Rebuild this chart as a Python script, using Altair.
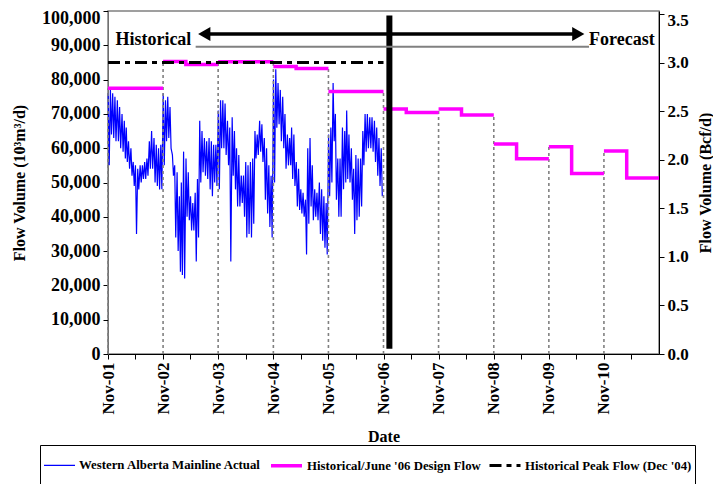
import altair as alt
import pandas as pd

# ---------------- data ----------------
# Daily actual flow (10^3 m3/d), summarised as half-monthly highs / lows,
# starting in November of each gas year.
actual_years = [2001, 2002, 2003, 2004, 2005]
actual_hi = {
    2001: [76, 77, 76, 75, 74, 72, 70, 68, 66, 62, 60, 56, 55, 54, 55, 55, 56, 57, 62, 65, 63, 61, 60, 61],
    2002: [76, 74, 75, 72, 58, 55, 53, 46, 50, 59, 57, 53, 46, 44, 47, 51, 68, 65, 63, 62, 63, 62, 61, 61],
    2003: [71, 74, 74, 73, 68, 66, 69, 65, 60, 58, 52, 52, 56, 55, 56, 57, 65, 64, 68, 67, 63, 60, 55, 52],
    2004: [80, 83, 79, 77, 75, 70, 64, 63, 66, 64, 56, 54, 48, 47, 45, 60, 63, 55, 48, 47, 50, 48, 46, 44],
    2005: [64, 66, 79, 70, 57, 57, 66, 65, 71, 64, 60, 54, 58, 57, 57, 65, 70, 70, 69, 69, 68, 66, 63, 60],
}
actual_lo = {
    2001: [55, 64, 63, 62, 62, 60, 59, 57, 56, 54, 52, 49, 35, 48, 50, 51, 51, 52, 54, 54, 50, 49, 48, 48],
    2002: [55, 62, 63, 60, 52, 34, 30, 24, 23, 22, 40, 39, 36, 36, 27, 34, 50, 53, 52, 51, 48, 46, 50, 49],
    2003: [48, 60, 60, 58, 55, 27, 52, 48, 43, 43, 44, 40, 34, 35, 34, 38, 57, 58, 59, 56, 45, 41, 37, 34],
    2004: [50, 66, 67, 62, 60, 54, 55, 55, 51, 49, 43, 42, 41, 40, 29, 38, 43, 39, 40, 39, 35, 33, 31, 29],
    2005: [46, 50, 62, 45, 40, 40, 48, 50, 51, 50, 45, 35, 39, 40, 43, 55, 59, 60, 60, 59, 56, 52, 49, 46],
}

# Design flow (10^3 m3/d): winter level from 1 Nov, summer level from 1 Apr
design_years = [2001, 2002, 2003, 2004, 2005, 2006, 2007, 2008, 2009, 2010]
design_winter = [77.5, 85.3, 85.2, 83.8, 76.5, 71.4, 71.4, 61.2, 60.4, 59.2]
design_summer = [77.5, 84.4, 85.2, 83.2, 76.5, 70.4, 69.7, 56.9, 52.6, 51.3]

peak_flow = 85000
peak_dates = ["2001-11-01", "2006-11-01"]

forecast_bar_date = "2006-12-10"
forecast_bar_range = [1500, 98700]

right_ticks = [0.0, 0.5, 1.0, 1.5, 2.0, 2.5, 3.0, 3.5]
M3_PER_BCF = 28316.85  # 10^3 m3 per Bcf

S_ACT = "Western Alberta Mainline Actual"
S_DES = "Historical/June '06 Design Flow"
S_PEAK = "Historical Peak Flow (Dec '04)"

# ---------------- tables ----------------
rows = []
for yr in actual_years:
    for i in range(24):
        m = 11 + i // 2
        yy = yr + (m - 1) // 12
        mm = (m - 1) % 12 + 1
        base = pd.Timestamp(yy, mm, 1 if i % 2 == 0 else 16)
        rows.append((base + pd.Timedelta(days=1), actual_hi[yr][i] * 1000))
        rows.append((base + pd.Timedelta(days=8), actual_lo[yr][i] * 1000))
actual = pd.DataFrame(rows, columns=["date", "value"])
actual["date"] = actual["date"].dt.strftime("%Y-%m-%d")
actual["series"] = S_ACT

drows = []
for yr, w, s in zip(design_years, design_winter, design_summer):
    drows += [
        (f"{yr}-11-01", w * 1000, yr),
        (f"{yr + 1}-04-01", w * 1000, yr),
        (f"{yr + 1}-04-01", s * 1000, yr),
        (f"{yr + 1}-11-01", s * 1000, yr),
    ]
design = pd.DataFrame(drows, columns=["date", "value", "grp"])
design["series"] = S_DES

drop_rows = []
for k, yr in enumerate(design_years):
    top = design_winter[k] if k == 0 else max(design_summer[k - 1], design_winter[k])
    drop_rows.append((f"{yr}-11-01", 0, top * 1000))
drops = pd.DataFrame(drop_rows, columns=["date", "value", "value2"])

peak = pd.DataFrame({"date": peak_dates, "value": [peak_flow] * 2, "series": [S_PEAK] * 2})
bar = pd.DataFrame({"date": [forecast_bar_date], "value": [forecast_bar_range[0]],
                    "value2": [forecast_bar_range[1]]})

arrow_line = pd.DataFrame({"date": ["2003-08-01", "2010-05-15"], "value": [93300, 93300]})
arrow_heads = pd.DataFrame({"date": ["2003-08-01", "2010-05-15"], "value": [93300, 93300],
                            "shape": ["triangle-left", "triangle-right"]})
underline = pd.DataFrame({"date": ["2003-06-05", "2010-07-25"], "value": [89600, 89600]})
labels = pd.DataFrame({"date": ["2001-12-20", "2010-07-25"], "value": [90100, 90100],
                       "text": ["Historical", "Forecast"]})
right_df = pd.DataFrame({"bcf": right_ticks})

# ---------------- encodings ----------------
FONT = "Liberation Serif"
xticks = []
for yr in range(2001, 2011):
    xticks.append(alt.DateTime(year=yr, month=11, date=1, utc=True))
    xticks.append(alt.DateTime(year=yr + 1, month=5, date=1, utc=True))

xscale = alt.Scale(type="utc", domain=[alt.DateTime(year=2001, month=11, date=1, utc=True),
                                        alt.DateTime(year=2011, month=11, date=1, utc=True)])
xaxis = alt.Axis(values=xticks,
                 labelExpr="utcmonth(datum.value) == 10 ? utcFormat(datum.value, '%b-%y') : ''",
                 labelAngle=270, labelFont=FONT, labelFontSize=17, labelFontWeight="bold",
                 labelColor="black", tickColor="black", domainColor="black", tickSize=5,
                 labelPadding=3, grid=False, title="Date", titleFont=FONT, titleFontSize=16,
                 titleFontWeight="bold", titleColor="black", titlePadding=15)
X = alt.X("date:T", scale=xscale, axis=xaxis)

yscale = alt.Scale(domain=[0, 100000], nice=False, zero=True)
yaxis = alt.Axis(values=list(range(0, 100001, 10000)), format=",d", labelFont=FONT, labelFontSize=18,
                 labelFontWeight="bold", labelColor="black", tickColor="black", domainColor="#707070",
                 tickSize=5, labelPadding=3, grid=False,
                 labelOffset={"condition": {"test": "datum.value == 100000", "value": 7}, "value": 0},
                 title="Flow Volume (10³m³/d)", titleFont=FONT, titleFontSize=16, titleFontWeight="bold",
                 titleColor="black", titlePadding=14)
Y = alt.Y("value:Q", scale=yscale, axis=yaxis)

dom = [S_ACT, S_DES, S_PEAK]
legend = alt.Legend(orient="none", legendX=-68, legendY=434, direction="horizontal",
                    title=" ", titleOrient="bottom", titleFontSize=40, titleColor="white", titlePadding=0,
                    symbolType="stroke", symbolSize=961, labelFont=FONT, labelFontSize=12.8,
                    labelFontWeight="bold", labelColor="black", labelLimit=400, labelOffset=3,
                    columnPadding=2, padding=3, strokeColor="black", fillColor="white")
COLOR = alt.Color("series:N", scale=alt.Scale(domain=dom, range=["#0000FF", "#FF00FF", "#000000"]),
                  legend=legend)
DASH = alt.StrokeDash("series:N", scale=alt.Scale(domain=dom, range=[[1, 0], [1, 0], [12, 5, 5, 5]]),
                      legend=legend)
WIDTH = alt.StrokeWidth("series:N", scale=alt.Scale(type="ordinal", domain=dom, range=[1.2, 3.5, 3]),
                        legend=legend)

actual_layer = alt.Chart(actual).mark_line().encode(x=X, y=Y, color=COLOR, strokeDash=DASH,
                                                     strokeWidth=WIDTH, order="date:T")
drop_layer = alt.Chart(drops).mark_rule(color="#808080", strokeDash=[3, 3], strokeWidth=1.6).encode(
    x=X, y=Y, y2="value2:Q")
design_layer = alt.Chart(design).mark_line().encode(x=X, y=Y, color=COLOR, strokeDash=DASH,
                                                     strokeWidth=WIDTH, detail="grp:N")
peak_layer = alt.Chart(peak).mark_line().encode(x=X, y=Y, color=COLOR, strokeDash=DASH, strokeWidth=WIDTH)
bar_layer = alt.Chart(bar).mark_rule(color="black", strokeWidth=6).encode(x=X, y=Y, y2="value2:Q")
under_layer = alt.Chart(underline).mark_line(color="#808080", strokeWidth=2).encode(x=X, y=Y)
arrow_layer = alt.Chart(arrow_line).mark_line(color="black", strokeWidth=3.5).encode(x=X, y=Y)
head_layer = alt.Chart(arrow_heads).mark_point(filled=True, color="black", size=200, opacity=1).encode(
    x=X, y=Y, shape=alt.Shape("shape:N", scale=None))
text_layer = alt.Chart(labels).mark_text(font=FONT, fontSize=18, fontWeight="bold", align="left",
                                         baseline="alphabetic", color="black").encode(x=X, y=Y, text="text:N")

left = alt.layer(actual_layer, drop_layer, design_layer, peak_layer, bar_layer, under_layer,
                 arrow_layer, head_layer, text_layer)

right = alt.Chart(right_df).mark_point(opacity=0).encode(
    y=alt.Y("bcf:Q", scale=alt.Scale(domain=[0, 100000 / M3_PER_BCF], nice=False),
            axis=alt.Axis(orient="right", values=right_ticks, format=".1f", labelFont=FONT,
                          labelFontSize=17, labelFontWeight="bold", labelColor="black",
                          tickColor="black", domainColor="black", tickSize=5, labelPadding=3,
                          labelOffset={"condition": {"test": "datum.value == 3.5", "value": 6}, "value": 0},
                          grid=False, title="Flow Volume (Bcf/d)", titleAngle=270, titleBaseline="top",
                          titleFont=FONT, titleFontSize=16, titleFontWeight="bold",
                          titleColor="black", titlePadding=9))
)

chart = alt.layer(left, right).resolve_scale(y="independent").properties(
    width=551, height=343,
    autosize=alt.AutoSizeParams(type="none"),
    padding={"left": 100, "top": 3, "right": 54, "bottom": 130},
).configure(font=FONT).configure_view(stroke="#808080", strokeWidth=1.5)

chart.save("out.html", embed_options={"renderer": "svg", "actions": False})
